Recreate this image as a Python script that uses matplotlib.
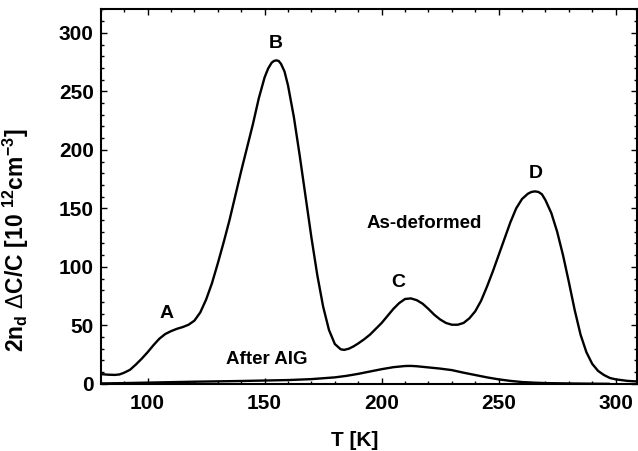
import matplotlib
matplotlib.use("Agg")
import matplotlib.pyplot as plt

plt.rcParams['font.family'] = ['Liberation Sans', 'DejaVu Sans']
plt.rcParams['mathtext.fontset'] = 'custom'
plt.rcParams['mathtext.rm'] = 'Liberation Sans:weight=normal'
plt.rcParams['mathtext.bf'] = 'Liberation Sans:weight=bold'
plt.rcParams['mathtext.default'] = 'bf'

# As-deformed spectrum
T_def = [80, 83, 86, 88, 90, 92.5, 95, 97.5, 100, 102.5, 105, 107.5, 110, 112.5, 115,
         117.5, 120, 122.5, 125, 127.5, 130, 132.5, 135, 137.5, 140, 142.5, 145, 147.5,
         150, 151.5, 153, 154, 155, 156, 157, 158.5, 160, 162.5, 165, 167.5, 170, 172.5,
         175, 177.5, 180, 182.5, 184, 186, 188, 190, 192.5, 195, 197.5, 200, 202.5, 205,
         207.5, 210, 212.5, 215, 217.5, 220, 222.5, 225, 227.5, 230, 232.5, 235, 237.5,
         240, 242.5, 245, 247.5, 250, 252.5, 255, 257.5, 260, 262.5, 264, 265.5, 267,
         268.5, 270, 272.5, 275, 277.5, 280, 282.5, 285, 287.5, 290, 292.5, 295, 297.5,
         300, 305, 309]
S_def = [8.3, 7.8, 7.6, 8.0, 9.5, 12, 16.5, 21.5, 27, 33, 38.5, 42.5, 45, 47, 48.5,
         50.5, 54, 61, 72, 86, 103, 121, 140, 161, 182, 202, 222, 244,
         262, 269.5, 274.5, 276, 276.5, 276, 273.5, 267, 255, 228, 195, 160, 125, 93,
         66, 46, 34, 29.5, 29, 30, 32, 34.5, 38, 42, 47, 52, 58, 64,
         69, 72.5, 73, 71.5, 68.5, 64, 59, 55, 52, 50.5, 50.5, 52, 56,
         62, 71, 83, 96, 110, 124, 138, 150, 158, 162.5, 164, 164.5, 164,
         162, 157, 146, 130, 110, 87, 63, 42, 27, 17, 11, 7.5, 5,
         3.8, 2.5, 2]

# After AIG spectrum
T_aig = [80, 90, 100, 110, 120, 130, 140, 150, 160, 170, 180, 185, 190, 195, 200, 205,
         210, 212.5, 215, 220, 225, 230, 235, 240, 245, 250, 255, 260, 265, 270, 280,
         290, 297]
S_aig = [0.3, 0.6, 1, 1.4, 1.8, 2.1, 2.4, 2.8, 3.2, 4, 5.5, 6.8, 8.5, 10.5, 12.5, 14.2,
         15.2, 15.3, 15, 14, 13, 11.7, 9.5, 7.5, 5.5, 3.8, 2.5, 1.5, 1, 0.6, 0.3,
         0.1, 0]

peak_labels = ['A', 'B', 'C', 'D']
peak_T = [108.3, 154.7, 207, 265.8]
peak_S = [60, 291, 86.5, 180]

fig = plt.figure(figsize=(6.38, 4.51), dpi=100)
ax = fig.add_axes([0.158, 0.149, 0.840, 0.830])

ax.plot(T_def, S_def, color='black', lw=1.7)
ax.plot(T_aig, S_aig, color='black', lw=1.7)

for lab, t, s in zip(peak_labels, peak_T, peak_S):
    ax.text(t, s, lab, ha='center', va='center', fontsize=14, fontweight='bold')

ax.text(218.2, 137, 'As-deformed', ha='center', va='center', fontsize=13.5, fontweight='bold')
ax.text(150.7, 20.5, 'After AIG', ha='center', va='center', fontsize=13.5, fontweight='bold')

ax.set_xlim(80, 309)
ax.set_ylim(0, 320)
ax.set_xticks([100, 150, 200, 250, 300])
ax.set_yticks([0, 50, 100, 150, 200, 250, 300])
ax.set_xticks(range(80, 310, 10), minor=True)
ax.set_yticks(range(0, 321, 10), minor=True)
ax.tick_params(which='both', direction='in', top=True, right=True, width=1.0)
ax.tick_params(which='major', length=4.5, labelsize=15)
ax.tick_params(which='minor', length=2.5)
ax.tick_params(axis='x', pad=7)
ax.tick_params(axis='y', pad=5)
for lbl in ax.get_xticklabels() + ax.get_yticklabels():
    lbl.set_fontweight('bold')
for sp in ax.spines.values():
    sp.set_linewidth(1.5)

ax.set_xlabel('T [K]', fontsize=15, fontweight='bold')
ax.xaxis.set_label_coords(0.474, -0.125)
ax.set_ylabel(r'2n$_{d}$ $\mathrm{\Delta}$C/C [10 $^{12}$cm$^{-3}$]', fontsize=16.5, fontweight='bold')
ax.yaxis.set_label_coords(-0.13, 0.384)

fig.savefig('out.png', dpi=100)
